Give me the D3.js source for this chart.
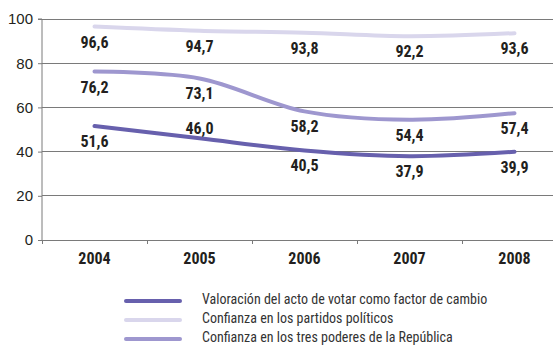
<!DOCTYPE html>
<html><head><meta charset="utf-8">
<script src="https://cdn.jsdelivr.net/npm/d3@7"></script>
<style>
body{margin:0;background:#fff;}
svg{display:block;font-family:"Liberation Sans Narrow","Arial Narrow","Roboto Condensed",sans-serif;}
</style></head><body>
<svg id="c" width="553" height="348"></svg>
<script>
const years = ["2004","2005","2006","2007","2008"];
const seriesNames = [
  "Valoración del acto de votar como factor de cambio",
  "Confianza en los partidos políticos",
  "Confianza en los tres poderes de la República"
];
const votar = [51.6, 46.0, 40.5, 37.9, 39.9];
const partidos = [96.6, 94.7, 93.8, 92.2, 93.6];
const poderes = [76.2, 73.1, 58.2, 54.4, 57.4];
const yTicks = [0, 20, 40, 60, 80, 100];
const colors = ["#6760ad", "#d9d6ec", "#9e97cf"];

const series = [votar, partidos, poderes].map((v, i) => ({name: seriesNames[i], values: v, color: colors[i]}));

const svg = d3.select("#c");
const W = 553;
const x = d3.scaleBand().domain(years).range([42, 567]).padding(0);
const y = d3.scaleLinear().domain([0, 100]).range([240, 19]);
const cx = d => x(d) + x.bandwidth() / 2;

// gridlines
svg.append("g").selectAll("line").data(yTicks.filter(t => t > 0)).join("line")
  .attr("x1", 42).attr("x2", W).attr("y1", d => y(d)).attr("y2", d => y(d))
  .attr("stroke", "#7a7a7a").attr("stroke-width", 1).attr("shape-rendering", "crispEdges");

// y axis
const yAxis = svg.append("g").attr("transform", "translate(42,0)")
  .call(d3.axisLeft(y).tickValues(yTicks).tickSize(4).tickPadding(5).tickFormat(d3.format("d")));
yAxis.select(".domain").attr("stroke", "#7a7a7a").attr("d", `M-4,${y(100)}H0V${y(0)}`);
yAxis.selectAll(".tick line").attr("stroke", "#7a7a7a");
yAxis.selectAll("text").attr("font-size", 15).attr("fill", "#231f20").attr("font-family", "Liberation Sans Narrow, Arial Narrow, sans-serif");

// x axis
svg.append("line").attr("x1", 42).attr("x2", W).attr("y1", y(0)).attr("y2", y(0))
  .attr("stroke", "#7a7a7a").attr("shape-rendering", "crispEdges");
const bounds = years.map(d => x(d));
svg.append("g").selectAll("line").data(bounds).join("line")
  .attr("x1", d => d).attr("x2", d => d).attr("y1", y(0)).attr("y2", y(0) + 4)
  .attr("stroke", "#7a7a7a").attr("shape-rendering", "crispEdges");
svg.append("g").selectAll("text").data(years).join("text")
  .attr("x", d => cx(d)).attr("y", 264).attr("text-anchor", "middle")
  .attr("font-size", 16).attr("font-weight", "bold").attr("fill", "#231f20").text(d => d);

// lines
const line = d3.line().x((d, i) => cx(years[i])).y(d => y(d)).curve(d3.curveCatmullRom.alpha(0.5));
const order = [1, 2, 0];
order.forEach(si => {
  const s = series[si];
  svg.append("path").attr("d", line(s.values)).attr("fill", "none")
    .attr("stroke", s.color).attr("stroke-width", 4).attr("stroke-linecap", "round");
});

// value labels
const fmt = v => d3.format(".1f")(v).replace(".", ",");
series.forEach((s, si) => {
  svg.append("g").selectAll("text").data(s.values).join("text")
    .attr("x", (d, i) => cx(years[i]))
    .attr("y", (d, i) => y(d) + ((si === 0 && i === 1) ? -4 : 21))
    .attr("text-anchor", "middle").attr("font-size", 16).attr("font-weight", "bold")
    .attr("fill", "#231f20").text(d => fmt(d));
});

// legend
const lg = svg.append("g");
series.forEach((s, i) => {
  const ly = 301 + i * 19;
  lg.append("line").attr("x1", 126).attr("x2", 180).attr("y1", ly).attr("y2", ly)
    .attr("stroke", s.color).attr("stroke-width", 4).attr("stroke-linecap", "round");
  lg.append("text").attr("x", 202).attr("y", ly + 3).attr("font-size", 14)
    .attr("fill", "#333").text(s.name);
});
</script>
</body></html>
